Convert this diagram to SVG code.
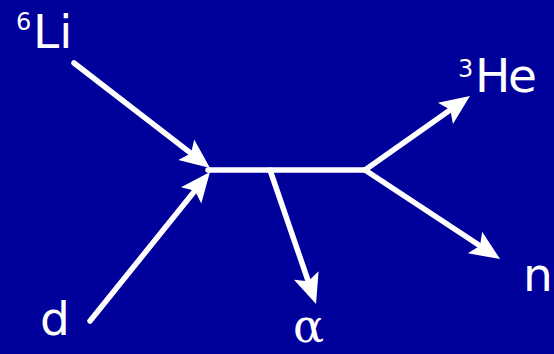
<svg xmlns="http://www.w3.org/2000/svg" width="554" height="354" viewBox="0 0 554 354">
<style>
.ln{stroke:#fff;stroke-width:5.5;fill:none;stroke-linecap:round}
.lbl{fill:#fff;font-family:"DejaVu Sans",sans-serif;font-size:47px}
.sup{fill:#fff;font-family:"DejaVu Sans",sans-serif;font-size:24px}
.gr{fill:#fff;font-family:"DejaVu Serif",serif;font-size:46px}
</style>
<defs>
<marker id="ah" markerUnits="userSpaceOnUse" markerWidth="32" markerHeight="28" refX="20" refY="13" orient="auto" overflow="visible">
<path d="M0,0 L30,13 L0,26 L6,13 z" fill="#fff"/>
</marker>
</defs>
<rect width="554" height="354" fill="#00009a"/>
<g id="connectors">
<line class="ln" x1="74" y1="63" x2="202.1" y2="161.9" marker-end="url(#ah)"/>
<line class="ln" x1="90" y1="321" x2="203.7" y2="179.8" marker-end="url(#ah)"/>
<line class="ln" x1="208" y1="170" x2="365" y2="170"/>
<line class="ln" x1="365" y1="170" x2="461.8" y2="101.8" marker-end="url(#ah)"/>
<line class="ln" x1="365" y1="170" x2="491.7" y2="253.5" marker-end="url(#ah)"/>
<line class="ln" x1="270" y1="170" x2="312.8" y2="294.5" marker-end="url(#ah)"/>
</g>
<g id="li6"><text class="sup" x="16" y="30">6</text><text class="lbl" x="33" y="48">Li</text></g>
<g id="he3"><text class="sup" x="458" y="77">3</text><text class="lbl" x="475" y="92" textLength="62">He</text></g>
<g id="d"><text class="lbl" x="40" y="335">d</text></g>
<g id="alpha"><text class="gr" x="293" y="342">α</text></g>
<g id="n"><text class="lbl" x="523" y="291">n</text></g>
</svg>
